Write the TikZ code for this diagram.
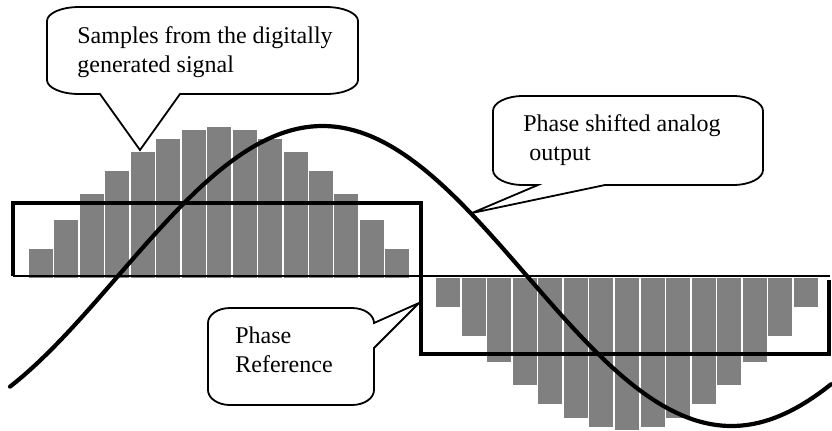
\documentclass[tikz,border=0pt]{standalone}
\usepackage{fontspec}
\setmainfont{Liberation Serif}
\tikzset{
  sample/.style   = {fill=gray},
  axisline/.style = {line width=0.7pt},
  squarew/.style  = {line width=1.7pt},
  analog/.style   = {line width=2.1pt, line cap=round},
  callout/.style  = {draw, fill=white, line width=0.9pt, line join=miter},
  lbl/.style      = {font=\fontsize{12}{14.5}\selectfont, align=left,
                     anchor=base west, inner sep=0pt},
}

\begin{document}
\begin{tikzpicture}[x=0.5pt, y=-0.5pt]

\useasboundingbox (0,0) rectangle (832,430);

% digital samples, positive and negative half
\foreach \k in {0,...,14} {
  \fill[sample] ({29+25.45*\k},278) rectangle ++(24,{-151*sin(180*(\k+1)/16)});
  \fill[sample] ({436+25.57*\k},277.5) rectangle ++(24,{152*sin(180*(\k+1)/16)});
}

% zero line and phase reference square wave
\draw[axisline] (13,276) -- (830,276);
\draw[squarew] (13,276) -- (13,203) -- (421,203) -- (421,354) -- (829,354) -- (829,280);

% shifted analog output (period 818 px)
\draw[analog] plot[domain=10:831, samples=140, smooth]
  (\x, {276-150*sin(0.44010*(\x-118))});

\coordinate (samplestip) at (140,150);
\coordinate (analogtip) at (472,213);
\coordinate (reftip) at (419,303);

% callouts (labels sit on the baseline of their last line)
\draw[callout] (79,7) -- (326,7) arc[start angle=90, end angle=0, x radius=16pt, y radius=7pt]
  -- (358,80) arc[start angle=0, end angle=-90, x radius=16pt, y radius=7pt]
  -- (180,94) -- (samplestip) -- (100,94)
  -- (79,94) arc[start angle=270, end angle=180, x radius=16pt, y radius=7pt]
  -- (47,21) arc[start angle=180, end angle=90, x radius=16pt, y radius=7pt] -- cycle;
\node[lbl] (samplestext) at (77,72) {Samples from the digitally\\generated signal};

\draw[callout] (523,96) -- (733,96) arc[start angle=90, end angle=0, x radius=15pt, y radius=7.5pt]
  -- (763,170) arc[start angle=0, end angle=-90, x radius=15pt, y radius=7.5pt]
  -- (605,185) -- (analogtip) -- (538,185)
  -- (523,185) arc[start angle=270, end angle=180, x radius=15pt, y radius=7.5pt]
  -- (493,111) arc[start angle=180, end angle=90, x radius=15pt, y radius=7.5pt] -- cycle;
\node[lbl] (analogtext) at (523,160) {Phase shifted analog\\\ output};

\draw[callout] (230,308) -- (352,308) arc[start angle=90, end angle=0, x radius=11pt, y radius=7.5pt]
  -- (reftip) -- (374,348)
  -- (374,390) arc[start angle=0, end angle=-90, x radius=11pt, y radius=7.5pt]
  -- (230,405) arc[start angle=270, end angle=180, x radius=11pt, y radius=7.5pt]
  -- (208,323) arc[start angle=180, end angle=90, x radius=11pt, y radius=7.5pt] -- cycle;
\node[lbl] (reftext) at (235,372) {Phase\\Reference};

\end{tikzpicture}
\end{document}
